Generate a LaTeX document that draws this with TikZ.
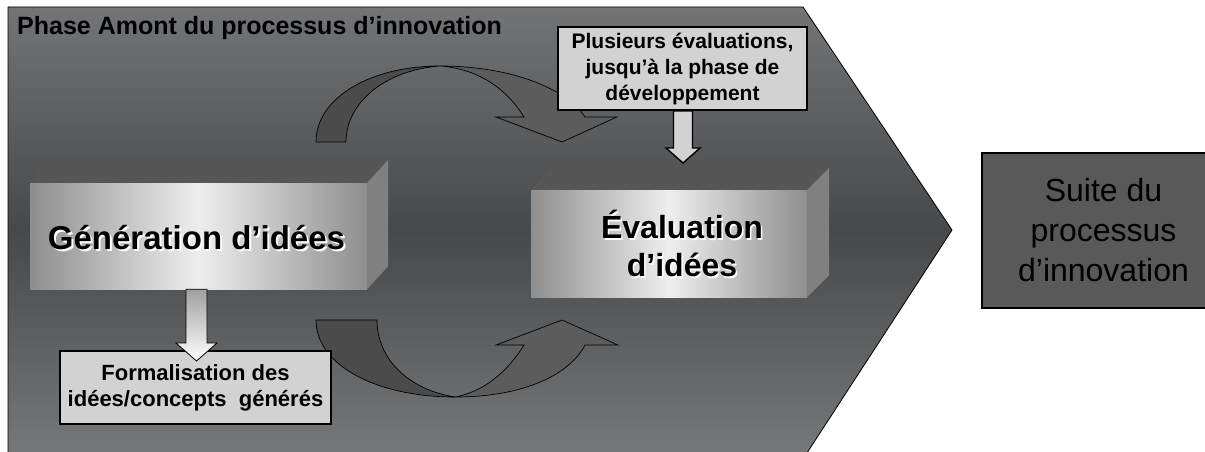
\documentclass[tikz,border=0pt]{standalone}
\usepackage{fontspec}
\setmainfont{Liberation Sans}
\usetikzlibrary{calc}

\definecolor{phasetop}{HTML}{727577}
\definecolor{phasemid}{HTML}{45494C}
\definecolor{phasebot}{HTML}{76797B}
\definecolor{facetop}{HTML}{565656}
\definecolor{faceside}{HTML}{808080}
\definecolor{faceedge}{HTML}{8E8E8E}
\definecolor{facemid}{HTML}{EEEEEE}
\definecolor{notefill}{HTML}{D2D2D2}
\definecolor{suitefill}{HTML}{595959}
\definecolor{banddark}{HTML}{4B4B4B}
\definecolor{bandlight}{HTML}{5C5C5C}

% vertical block arrow from one anchor down to a tip
\newcommand{\blockarrow}[6][]{%
  \draw[#1] let \p1=(#2), \p2=(#3) in
    (\x2-#4pt,\y1) -- (\x2-#4pt,\y2+#6pt) -- (\x2-#5pt,\y2+#6pt) -- (\x2,\y2)
    -- (\x2+#5pt,\y2+#6pt) -- (\x2+#4pt,\y2+#6pt) -- (\x2+#4pt,\y1) -- cycle;}

\begin{document}
\begin{tikzpicture}[x=1pt, y=-1pt,
  phase/.style={draw=black, line width=0.8pt, top color=phasetop, bottom color=phasebot, middle color=phasemid},
  title/.style={font=\fontsize{25}{30}\selectfont\bfseries, inner sep=0pt},
  front face/.style={left color=faceedge, right color=faceedge, middle color=facemid, inner sep=0pt},
  top face/.style={fill=facetop},
  side face/.style={fill=faceside},
  step label/.style={font=\fontsize{33}{38}\selectfont\bfseries, align=center, text=black},
  step shadow/.style={step label, text=white},
  note box/.style={draw=black, line width=1.6pt, fill=notefill, align=center, inner sep=0pt, font=\fontsize{21}{26}\selectfont\bfseries},
  suite box/.style={draw=black, line width=1.2pt, fill=suitefill, align=center, inner sep=0pt, font=\fontsize{32}{40}\selectfont},
  band back/.style={draw=black, line width=0.7pt, fill=banddark},
  band front/.style={draw=black, line width=0.7pt, fill=bandlight},
  hint arrow/.style={draw=black, line width=0.8pt, top color=gray!75, bottom color=white},
  note arrow/.style={draw=black, line width=1.4pt, fill=notefill}]

  \useasboundingbox (0,0) rectangle (1205,452);
  \clip (0,0) rectangle (1205,452);

  % big chevron
  \draw[phase] (8,7) -- (803,7) -- (952,230) -- (805,456) -- (8,456) -- cycle;
  \node[title, anchor=west] (title) at (17,28) {Phase Amont du processus d’innovation};

  % upper curved arrow
  \draw[band front] (440,66) .. controls (510,66) and (566,88) .. (585,117) -- (617,117) -- (562,142)
    -- (496,117) -- (524,117) .. controls (506,88) and (478,69) .. (440,66) -- cycle;
  \draw[band back] (316,142) .. controls (316,98) and (370,66) .. (440,66)
    .. controls (386,70) and (346,102) .. (346,142) -- cycle;

  % lower curved arrow
  \draw[band front] (455,397) .. controls (525,397) and (570,374) .. (585,345) -- (618,345) -- (562,320)
    -- (496,345) -- (524,345) .. controls (506,374) and (482,392) .. (455,397) -- cycle;
  \draw[band back] (316,320) .. controls (316,366) and (378,397) .. (455,397)
    .. controls (410,390) and (377,360) .. (377,320) -- cycle;

  % generation box
  \node[front face, minimum width=337, minimum height=106] (gen) at (198.5,236) {};
  \fill[top face] (gen.north west) -- ++(16,-23) -- ([shift={(21,-23)}]gen.north east) -- (gen.north east) -- cycle;
  \fill[side face] (gen.north east) -- ++(21,-23) -- ([shift={(21,-23)}]gen.south east) -- (gen.south east) -- cycle;
  \node[step shadow] (gen-sh) at ([shift={(0,3.5)}]gen.center) {Génération d’idées};
  \node[step label] (gen-txt) at ([shift={(-2,2)}]gen.center) {Génération d’idées};

  % evaluation box
  \node[front face, minimum width=276, minimum height=107] (eval) at (669,243.5) {};
  \fill[top face] (eval.north west) -- ++(21,-22) -- ([shift={(22,-22)}]eval.north east) -- (eval.north east) -- cycle;
  \fill[side face] (eval.north east) -- ++(22,-22) -- ([shift={(22,-22)}]eval.south east) -- (eval.south east) -- cycle;
  \node[step shadow, font=\fontsize{32}{38}\selectfont\bfseries] (eval-sh) at ([shift={(14.5,1.5)}]eval.center) {Évaluation\\d’idées};
  \node[step label, font=\fontsize{32}{38}\selectfont\bfseries] (eval-txt) at ([shift={(13,0)}]eval.center) {Évaluation\\d’idées};

  % notes
  \node[note box, minimum width=249, minimum height=83] (plus) at (682.5,68.5)
    {Plusieurs évaluations,\\jusqu’à la phase de\\développement};
  \node[note box, minimum width=271, minimum height=73, font=\fontsize{22}{26}\selectfont\bfseries] (forma) at (195.5,387.5)
    {Formalisation des\\idées/concepts\ \ générés};

  \coordinate (plustip) at (683,163);
  \coordinate (gentip) at (196.5,361);
  \blockarrow[note arrow]{plus.south}{plustip}{9.5}{17}{15}
  \blockarrow[hint arrow]{gen.south}{gentip}{10.5}{20.5}{18}

  % rest of the process
  \node[suite box, minimum width=243, minimum height=155] (suite) at (1103.5,230.5)
    {Suite du\\processus\\d’innovation};
\end{tikzpicture}
\end{document}
